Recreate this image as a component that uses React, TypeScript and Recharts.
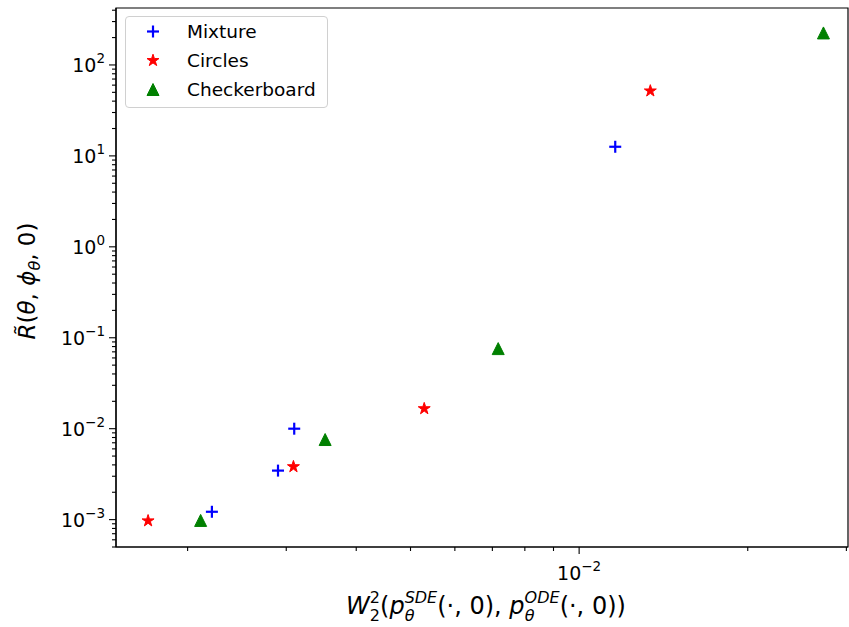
import React from 'react';
import { ScatterChart, Scatter, XAxis, YAxis, Legend, ReferenceArea } from 'recharts';

// values (log-log)
const mixtureX = [0.00221, 0.0029, 0.0031, 0.0116];
const mixtureY = [0.00122, 0.00346, 0.0100, 12.6];
const circlesX = [0.0017, 0.00309, 0.00529, 0.0134];
const circlesY = [0.00097, 0.00382, 0.0166, 51.8];
const checkerX = [0.00211, 0.00352, 0.00717, 0.0273];
const checkerY = [0.00098, 0.0076, 0.076, 225];

const X_DOMAIN = [0.00149, 0.0302];
const Y_DOMAIN = [0.0005, 423];
const X_TICKS = [0.002, 0.003, 0.004, 0.005, 0.006, 0.007, 0.008, 0.009, 0.01, 0.02, 0.03];
const Y_TICKS = [
  0.0005, 0.0006, 0.0007, 0.0008, 0.0009,
  0.001, 0.002, 0.003, 0.004, 0.005, 0.006, 0.007, 0.008, 0.009,
  0.01, 0.02, 0.03, 0.04, 0.05, 0.06, 0.07, 0.08, 0.09,
  0.1, 0.2, 0.3, 0.4, 0.5, 0.6, 0.7, 0.8, 0.9,
  1, 2, 3, 4, 5, 6, 7, 8, 9,
  10, 20, 30, 40, 50, 60, 70, 80, 90,
  100, 200, 300, 400,
];

const FONT = '"DejaVu Sans", sans-serif';

const toPoints = (xs: number[], ys: number[]) => xs.map((x, i) => ({ x, y: ys[i] }));

const isMajor = (v: number) => {
  const l = Math.log10(v);
  return Math.abs(l - Math.round(l)) < 1e-6;
};

const expLabel = (v: number) => {
  const e = Math.round(Math.log10(v));
  return e < 0 ? '\u2212' + Math.abs(e) : String(e);
};

// marker shapes, roughly matplotlib '+', '*', '^'
const PlusMark = (props: any) => {
  const { cx, cy } = props;
  const r = 6;
  return (
    <g stroke="#0000ff" strokeWidth={2.2}>
      <line x1={cx - r} y1={cy} x2={cx + r} y2={cy} />
      <line x1={cx} y1={cy - r} x2={cx} y2={cy + r} />
    </g>
  );
};

const StarMark = (props: any) => {
  const { cx, cy } = props;
  const R = 6.3;
  const r = R * 0.382;
  const pts: string[] = [];
  for (let i = 0; i < 10; i++) {
    const a = -Math.PI / 2 + (i * Math.PI) / 5;
    const rad = i % 2 === 0 ? R : r;
    pts.push(`${cx + rad * Math.cos(a)},${cy + rad * Math.sin(a)}`);
  }
  return <polygon points={pts.join(' ')} fill="#ff0000" stroke="#ff0000" strokeWidth={1} strokeLinejoin="miter" />;
};

const TriMark = (props: any) => {
  const { cx, cy } = props;
  const h = 6;
  return (
    <polygon
      points={`${cx},${cy - h} ${cx - h},${cy + h} ${cx + h},${cy + h}`}
      fill="#008000"
      stroke="#008000"
      strokeWidth={1}
    />
  );
};

const XTick = (props: any) => {
  const { x, y, payload } = props;
  const major = isMajor(payload.value);
  return (
    <g>
      <line x1={x} y1={y} x2={x} y2={y + (major ? 7 : 4)} stroke="#000" strokeWidth={1.1} />
      {major && (
        <text x={x} y={y + 33} textAnchor="middle" fontFamily={FONT} fontSize={19} fill="#000">
          10<tspan dy={-9} fontSize={13.5}>{expLabel(payload.value)}</tspan>
        </text>
      )}
    </g>
  );
};

const YTick = (props: any) => {
  const { x, y, payload } = props;
  const major = isMajor(payload.value);
  return (
    <g>
      <line x1={x - (major ? 7 : 4)} y1={y} x2={x} y2={y} stroke="#000" strokeWidth={1.1} />
      {major && (
        <text x={x - 11} y={y + 7} textAnchor="end" fontFamily={FONT} fontSize={19} fill="#000">
          10<tspan dy={-9} fontSize={13.5}>{expLabel(payload.value)}</tspan>
        </text>
      )}
    </g>
  );
};

const legendItems = [
  { name: 'Mixture', Mark: PlusMark },
  { name: 'Circles', Mark: StarMark },
  { name: 'Checkerboard', Mark: TriMark },
];

const renderLegend = () => (
  <div
    style={{
      width: 203,
      height: 92,
      boxSizing: 'border-box',
      border: '1px solid #d0d0d0',
      borderRadius: 4,
      background: 'rgba(255,255,255,0.8)',
      position: 'relative',
      fontFamily: FONT,
      fontSize: 18.5,
      color: '#000',
    }}
  >
    {legendItems.map((it, i) => (
      <div key={it.name} style={{ position: 'absolute', left: 0, top: 0 + i * 29, height: 29, display: 'flex', alignItems: 'center' }}>
        <svg width={50} height={29}>
          <it.Mark cx={27} cy={14.5} />
        </svg>
        <span style={{ marginLeft: 11, lineHeight: '29px' }}>{it.name}</span>
      </div>
    ))}
  </div>
);

const App: React.FC = () => {
  return (
    <div style={{ position: 'fixed', left: 0, top: 0, width: 849, height: 627, background: '#fff' }}>
      <ScatterChart width={849} height={627} margin={{ top: 8, right: 1, bottom: 0, left: 0 }}>
        <XAxis
          dataKey="x"
          type="number"
          scale="log"
          domain={X_DOMAIN}
          allowDataOverflow
          ticks={X_TICKS}
          interval={0}
          tick={<XTick />}
          tickLine={false}
          tickSize={0}
          tickMargin={0}
          axisLine={{ stroke: '#000', strokeWidth: 1.2 }}
          height={80}
        />
        <YAxis
          dataKey="y"
          type="number"
          scale="log"
          domain={Y_DOMAIN}
          allowDataOverflow
          ticks={Y_TICKS}
          interval={0}
          tick={<YTick />}
          tickLine={false}
          tickSize={0}
          tickMargin={0}
          axisLine={{ stroke: '#000', strokeWidth: 1.2 }}
          width={116}
        />
        <ReferenceArea
          x1={X_DOMAIN[0]}
          x2={X_DOMAIN[1]}
          y1={Y_DOMAIN[0]}
          y2={Y_DOMAIN[1]}
          fill="none"
          fillOpacity={0}
          stroke="#000"
          strokeWidth={1.2}
          ifOverflow="visible"
        />
        <Scatter name="Mixture" data={toPoints(mixtureX, mixtureY)} shape={<PlusMark />} isAnimationActive={false} />
        <Scatter name="Circles" data={toPoints(circlesX, circlesY)} shape={<StarMark />} isAnimationActive={false} />
        <Scatter name="Checkerboard" data={toPoints(checkerX, checkerY)} shape={<TriMark />} isAnimationActive={false} />
        <Legend
          layout="vertical"
          align="center"
          verticalAlign="middle"
          content={renderLegend}
          wrapperStyle={{ left: 125, top: 16, width: 203 }}
        />
      </ScatterChart>
      <svg width={849} height={627} style={{ position: 'absolute', left: 0, top: 0, pointerEvents: 'none' }}>
        <text x={486} y={614} textAnchor="middle" fontFamily={FONT} fontSize={24} fill="#000">
          <tspan fontStyle="italic">W</tspan>
          <tspan fontSize={16} dy={-11}>2</tspan>
          <tspan fontSize={16} dx={-10.2} dy={18}>2</tspan>
          <tspan dy={-7}>(</tspan>
          <tspan fontStyle="italic">p</tspan>
          <tspan fontSize={16} fontStyle="italic" dy={-11}>SDE</tspan>
          <tspan fontSize={16} fontStyle="italic" dx={-32.6} dy={18}>θ</tspan>
          <tspan dx={22.8} dy={-7}>(·, 0), </tspan>
          <tspan fontStyle="italic">p</tspan>
          <tspan fontSize={16} fontStyle="italic" dy={-11}>ODE</tspan>
          <tspan fontSize={16} fontStyle="italic" dx={-35} dy={18}>θ</tspan>
          <tspan dx={25.2} dy={-7}>(·, 0))</tspan>
        </text>
        <text
          transform="translate(35, 281) rotate(-90)"
          textAnchor="middle"
          fontFamily={FONT}
          fontSize={23}
          fill="#000"
        >
          <tspan fontStyle="italic">R̃</tspan>
          <tspan>(</tspan>
          <tspan fontStyle="italic">θ</tspan>
          <tspan>, </tspan>
          <tspan fontStyle="italic">ϕ</tspan>
          <tspan fontSize={16} fontStyle="italic" dy={5}>θ</tspan>
          <tspan dy={-5}>, 0)</tspan>
        </text>
      </svg>
    </div>
  );
};

export default App;
